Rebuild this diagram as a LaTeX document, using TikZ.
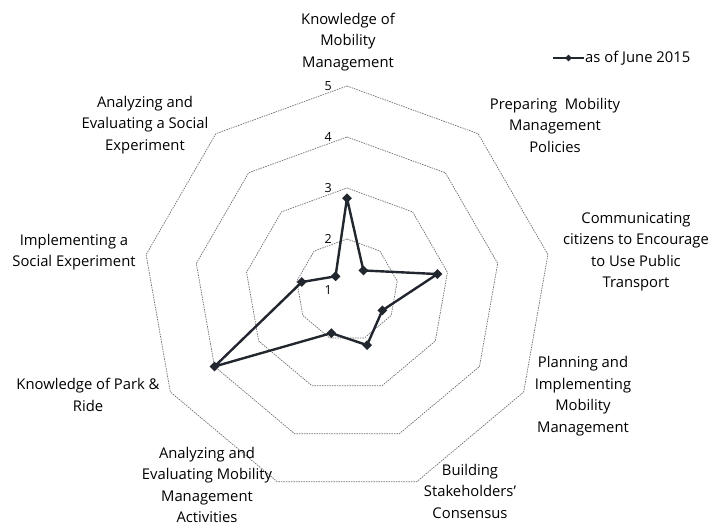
\documentclass[tikz,border=0pt]{standalone}
\usepackage{fontspec}
\setmainfont{Open Sans}
\usetikzlibrary{calc,shapes.geometric}
\definecolor{radarline}{HTML}{22262E}
\definecolor{gridgray}{HTML}{6E6E6E}

\begin{document}
\begin{tikzpicture}[x=1pt,y=1pt,
    axislabel/.style={align=center,font=\fontsize{14.8}{21.5}\selectfont,text=black},
    ticklabel/.style={anchor=east,inner sep=0pt,font=\fontsize{12.5}{12.5}\selectfont},
    gridline/.style={gridgray,dash pattern=on 1.5pt off 1pt,line width=0.7pt},
    dataline/.style={radarline,line width=2.4pt,line join=round},
    datamark/.style={diamond,fill=radarline,inner sep=0pt,minimum size=10pt}]
				\useasboundingbox (-347,-239) rectangle (365,290);
				\def\unit{51}
				
				% grid of the radar
				\foreach \r in {2,...,5}{
					\draw[gridline] (90:{(\r-1)*\unit})
					\foreach \a in {50,10,...,-230}{ -- (\a:{(\r-1)*\unit})} -- cycle;}
				
				\foreach \r in {1,...,5}{
					\node[ticklabel] (tick\r) at (-15,{(\r-1)*\unit}) {\r};}
				
				% data points
				\foreach \v [count=\i] in {2.8,1.5,2.8,1.8,2.15,1.9,4.0,1.9,1.35}{
					\coordinate (d\i) at ({130-40*\i}:{(\v-1)*\unit});}
				
				\draw[dataline] (d1) -- (d2) -- (d3) -- (d4) -- (d5) -- (d6) -- (d7) -- (d8) -- (d9) -- cycle;
				\foreach \i in {1,...,9}{
					\node[datamark] (mark\i) at (d\i) {};}
				
				% axis names
				\node[axislabel] (knowMM) at (1,248) {Knowledge of\\Mobility\\Management};
				\node[axislabel] (prepMM) at (208,165) {Preparing~ Mobility\\Management\\Policies};
				\node[axislabel] (commPT) at (289,38) {Communicating\\citizens to Encourage\\to Use Public\\Transport};
				\node[axislabel] (planMM) at (236,-106) {Planning and\\Implementing\\Mobility\\Management};
				\node[axislabel] (buildSC) at (123,-201) {Building\\Stakeholders'\\Consensus};
				\node[axislabel] (evalMM) at (-140,-195) {Analyzing and\\Evaluating Mobility\\Management\\Activities};
				\node[axislabel] (knowPR) at (-259,-105) {Knowledge of Park \&\\Ride};
				\node[axislabel] (implSE) at (-273,38) {Implementing a\\Social Experiment};
				\node[axislabel] (evalSE) at (-202,165) {Analyzing and\\Evaluating a Social\\Experiment};
				
				% legend
				\coordinate (lgA) at (206,232);
				\coordinate (lgB) at (237,232);
				\draw[radarline,line width=1.4pt] (lgA) -- (lgB);
				\node[datamark,minimum size=7pt] (lgMark) at ($(lgA)!0.5!(lgB)$) {};
				\node[axislabel,anchor=west,inner sep=1pt] (lgText) at (lgB) {as of June 2015};
			\end{tikzpicture}
\end{document}
